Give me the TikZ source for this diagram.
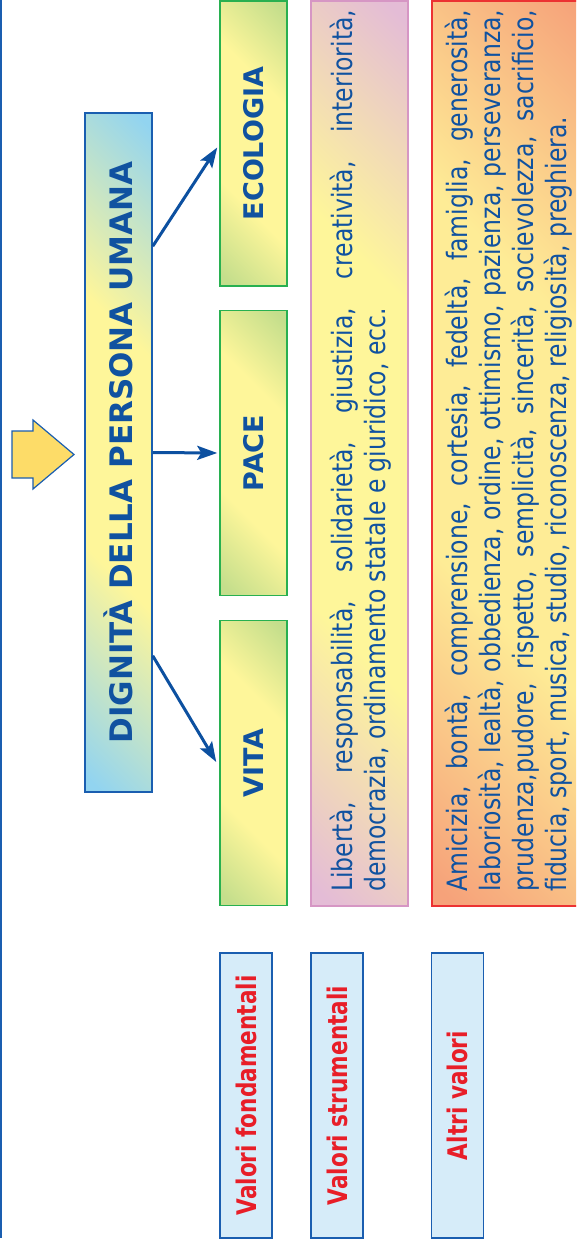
\documentclass[tikz,border=0pt]{standalone}
\usepackage{fontspec}
\setmainfont{DejaVu Sans}
\newfontfamily\narrowfont{DejaVu Sans}[FakeStretch=0.84]
\newfontfamily\labelfont{DejaVu Sans}[FakeStretch=0.8]
\usetikzlibrary{calc,arrows.meta}
\definecolor{txtblue}{RGB}{16,82,160}
\definecolor{bordblue}{RGB}{26,94,176}
\definecolor{lblfill}{RGB}{214,236,249}
\definecolor{lblred}{RGB}{232,30,40}
\definecolor{grnbord}{RGB}{40,176,80}
\definecolor{grncorner}{RGB}{196,222,140}
\definecolor{yel}{RGB}{254,246,154}
\definecolor{pinkbord}{RGB}{214,150,196}
\definecolor{pinkcorner}{RGB}{228,188,214}
\definecolor{orbord}{RGB}{236,50,50}
\definecolor{orcorner}{RGB}{246,162,122}
\definecolor{oryel}{RGB}{254,236,150}
\definecolor{bluecorner}{RGB}{146,212,240}
\definecolor{arrowyel}{RGB}{253,220,104}
\definecolor{connblue}{RGB}{12,80,160}
\pgfdeclareverticalshading{greenshade}{100bp}{color(0bp)=(grncorner); color(17bp)=(grncorner); color(36bp)=(yel); color(64bp)=(yel); color(83bp)=(grncorner); color(100bp)=(grncorner)}
\pgfdeclareverticalshading{blueshade}{100bp}{color(0bp)=(bluecorner); color(16bp)=(bluecorner); color(38bp)=(yel); color(62bp)=(yel); color(84bp)=(bluecorner); color(100bp)=(bluecorner)}
\pgfdeclareverticalshading{pinkshade}{100bp}{color(0bp)=(pinkcorner); color(16bp)=(pinkcorner); color(36bp)=(yel); color(64bp)=(yel); color(84bp)=(pinkcorner); color(100bp)=(pinkcorner)}
\pgfdeclareverticalshading{orangeshade}{100bp}{color(0bp)=(orcorner); color(16bp)=(orcorner); color(38bp)=(oryel); color(62bp)=(oryel); color(84bp)=(orcorner); color(100bp)=(orcorner)}
\tikzset{
  greenbox/.style={draw=grnbord, line width=1.5pt, shade, shading=greenshade, shading angle=-45,
    minimum width=67pt, minimum height=285pt, inner sep=0pt, text=txtblue, font=\fontsize{27}{30}\selectfont\bfseries},
  mainbox/.style={draw=bordblue, line width=1.5pt, shade, shading=blueshade, shading angle=-45,
    minimum width=67pt, minimum height=679pt, inner sep=0pt, text=txtblue, font=\fontsize{31}{34}\selectfont\bfseries},
  pinkbox/.style={draw=pinkbord, line width=1.5pt, shade, shading=pinkshade, shading angle=-45,
    minimum width=97pt, minimum height=905pt, inner sep=0pt},
  orangebox/.style={draw=orbord, line width=1.5pt, shade, shading=orangeshade, shading angle=-45,
    minimum width=168pt, minimum height=905pt, inner sep=0pt},
  labelbox/.style={draw=bordblue, fill=lblfill, line width=1.5pt, minimum width=52pt, minimum height=285pt, inner sep=0pt,
    text=lblred, font=\labelfont\fontsize{27}{30}\selectfont\bfseries},
  bodyline/.style={rotate=90, anchor=base west, inner sep=0pt, text=txtblue, font=\narrowfont\fontsize{28}{33}\selectfont},
  conn/.style={draw=connblue, line width=3pt, -{Stealth[length=20pt,width=14pt,inset=4pt]}},
}
\begin{document}
\begin{tikzpicture}[x=1pt,y=-1pt]
\useasboundingbox (0,0) rectangle (576,1244);
\clip (0,0) rectangle (576,1244);
% frame line
\draw[bordblue, line width=2pt] (1,0) -- (1,1238);
% block arrow
\filldraw[fill=arrowyel, draw=bordblue, line width=1.2pt, line join=miter]
  (12,431) -- (33,431) -- (33,420) -- (74,454.5) -- (33,489) -- (33,478) -- (12,478) -- cycle;
% main box
\node[mainbox] (main) at (118.5,452.5) {\rotatebox{90}{DIGNITÀ DELLA PERSONA UMANA}};
% green boxes
\node[greenbox] (eco) at (253.5,143.5) {\rotatebox{90}{ECOLOGIA}};
\node[greenbox] (pace) at (253.5,453) {\rotatebox{90}{PACE}};
\node[greenbox] (vita) at (253.5,763) {\rotatebox{90}{VITA}};
% connectors
\draw[conn] ($(main.north east)+(0,134)$) -- ($(eco.west)+(-2,4)$);
\draw[conn] (main.east) -- ($(pace.west)+(-2,0)$);
\draw[conn] ($(main.south east)+(0,-137)$) -- ($(vita.west)+(-3,-1)$);
% text boxes
\node[pinkbox] (pink) at (359.5,453.5) {};
\node[orangebox] (orange) at (516,453.5) {};
\node[bodyline] (p1) at (352,892) {\makebox[882pt][s]{Libertà, responsabilità, solidarietà, giustizia, creatività, interiorità,}};
\node[bodyline] (p2) at (385,892) {democrazia, ordinamento statale e giuridico, ecc.};
\node[bodyline] (o1) at (467,892) {\makebox[882pt][s]{Amicizia, bontà, comprensione, cortesia, fedeltà, famiglia, generosità,}};
\node[bodyline] (o2) at (500,892) {\makebox[882pt][s]{laboriosità, lealtà, obbedienza, ordine, ottimismo, pazienza, perseveranza,}};
\node[bodyline] (o3) at (533,892) {\makebox[882pt][s]{prudenza,pudore, rispetto, semplicità, sincerità, socievolezza, sacrificio,}};
\node[bodyline] (o4) at (566,892) {fiducia, sport, musica, studio, riconoscenza, religiosità, preghiera.};
% labels
\node[labelbox] (lf) at (246,1095.5) {\rotatebox{90}{Valori fondamentali}};
\node[labelbox] (ls) at (337,1095.5) {\rotatebox{90}{Valori strumentali}};
\node[labelbox] (la) at (457.5,1095.5) {\rotatebox{90}{Altri valori}};
\end{tikzpicture}
\end{document}
